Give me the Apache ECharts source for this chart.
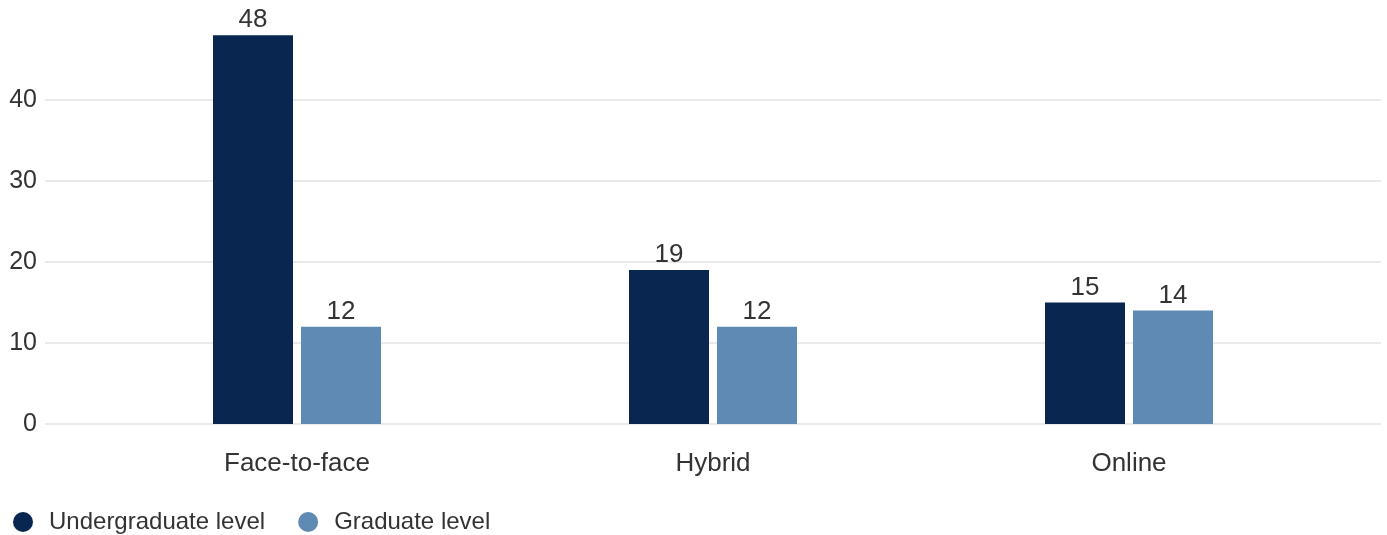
<!DOCTYPE html>
<html>
<head>
<meta charset="utf-8">
<script src="https://cdn.jsdelivr.net/npm/echarts@6/dist/echarts.min.js"></script>
<style>
  html, body { margin: 0; padding: 0; background: #ffffff; }
  #chart { width: 1387px; height: 535px; }
</style>
</head>
<body>
<div id="chart"></div>
<script>
// Course formats and counts per study level
const categories = ['Face-to-face', 'Hybrid', 'Online'];
const undergraduate = [48, 19, 15];
const graduate = [12, 12, 14];
const seriesNames = ['Undergraduate level', 'Graduate level'];
const yTicks = [0, 10, 20, 30, 40];

const FONT = '"Liberation Sans", Arial, sans-serif';
const TEXT = '#333333';
const Y_MIN = 0, Y_MAX = 50, Y_STEP = 10;

const chart = echarts.init(document.getElementById('chart'), null, { renderer: 'canvas' });

const barLabel = {
  show: true,
  position: 'top',
  distance: 2,
  color: TEXT,
  fontFamily: FONT,
  fontSize: 26
};

chart.setOption({
  animation: false,
  textStyle: { fontFamily: FONT },
  legend: {
    data: seriesNames,
    left: 8,
    top: 505,
    icon: 'circle',
    itemWidth: 20,
    itemHeight: 20,
    itemGap: 33,
    textStyle: { color: TEXT, fontSize: 24, fontFamily: FONT, padding: [0, 0, 0, 11] }
  },
  grid: [
    // full-width grid carrying the value scale and gridlines
    { left: 45, right: 6, top: 19, bottom: 111 },
    // inner grid carrying the category bars
    { left: 89, right: 50, top: 19, bottom: 111 }
  ],
  xAxis: [
    { gridIndex: 0, type: 'value', min: 0, max: 1, show: false },
    {
      gridIndex: 1,
      type: 'category',
      data: categories,
      axisLine: { show: false },
      axisTick: { show: false },
      axisLabel: { color: TEXT, fontSize: 26, fontFamily: FONT, margin: 27 }
    }
  ],
  yAxis: [
    {
      gridIndex: 0,
      type: 'value',
      min: Y_MIN,
      max: Y_MAX,
      interval: Y_STEP,
      axisLine: { show: false },
      axisTick: { show: false },
      axisLabel: {
        color: TEXT,
        fontSize: 25,
        fontFamily: FONT,
        margin: 8,
        padding: [6, 0, 0, 0],
        showMaxLabel: false,
        formatter: v => (yTicks.indexOf(v) >= 0 ? String(v) : '')
      },
      splitLine: { show: true, showMaxLine: false, lineStyle: { color: '#e3e3e3', width: 1.5 } }
    },
    {
      gridIndex: 1,
      type: 'value',
      min: Y_MIN,
      max: Y_MAX,
      interval: Y_STEP,
      show: false,
      splitLine: { show: false }
    }
  ],
  series: [
    {
      name: seriesNames[0],
      type: 'bar',
      xAxisIndex: 1,
      yAxisIndex: 1,
      data: undergraduate,
      barWidth: 80,
      barGap: '10%',
      itemStyle: { color: '#08264f' },
      label: barLabel
    },
    {
      name: seriesNames[1],
      type: 'bar',
      xAxisIndex: 1,
      yAxisIndex: 1,
      data: graduate,
      barWidth: 80,
      barGap: '10%',
      itemStyle: { color: '#5f8ab3' },
      label: barLabel
    }
  ]
});
</script>
</body>
</html>
